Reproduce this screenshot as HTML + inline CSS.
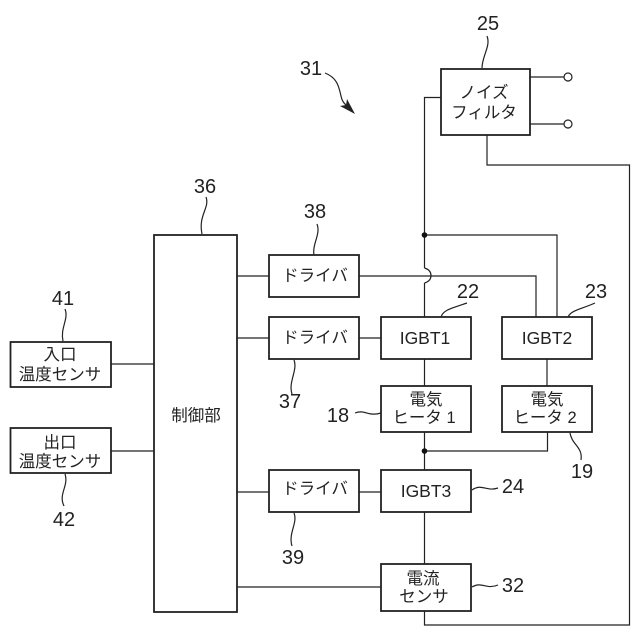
<!DOCTYPE html>
<html><head><meta charset="utf-8"><style>
html,body{margin:0;padding:0;background:#fff}
svg{display:block}
.n{font-family:"Liberation Sans",sans-serif;font-size:20px;fill:#222;text-anchor:middle}
.j{font-family:"Liberation Sans","Noto Sans CJK JP",sans-serif;font-size:16.500px;fill:#222;text-anchor:middle}
.l{fill:none;stroke:#222;stroke-width:1.2}
.b{fill:#fff;stroke:#222;stroke-width:1.8}
</style></head><body>
<svg width="640" height="640" viewBox="0 0 640 640" xmlns="http://www.w3.org/2000/svg">
<!-- connectors -->
<path class="l" d="M441 97.5H424.5V268M424.5 283V317M424.5 235H557V317"/>
<path class="l" d="M424.5 268Q431 270 431 275.5Q431 281 424.5 283"/>
<path class="l" d="M359 276H536V317"/>
<path class="l" d="M530 77H564M530 124H564"/>
<circle class="l" cx="568" cy="77" r="4"/><circle class="l" cx="568" cy="124" r="4"/>
<path class="l" d="M487 135V165H629.5V625H424.5V611"/>
<path class="l" d="M237 276H269M237 338H269M359 338H381M237 492H269M359 492H381M237 587H381M111 364H154M111 451H154"/>
<path class="l" d="M424.5 359V386M547 359V386M424.5 432V470M424.5 451H547.5V432M424.5 512V564"/>
<circle cx="424.5" cy="235" r="2.8" fill="#111"/><circle cx="424.5" cy="451" r="2.8" fill="#111"/>
<!-- boxes -->
<rect class="b" x="441" y="69" width="89" height="66"/>
<rect class="b" x="154" y="235" width="83" height="377"/>
<rect class="b" x="269" y="255" width="90" height="42"/>
<rect class="b" x="269" y="317" width="90" height="42"/>
<rect class="b" x="269" y="470" width="90" height="42"/>
<rect class="b" x="381" y="317" width="90" height="42"/>
<rect class="b" x="502" y="317" width="90" height="42"/>
<rect class="b" x="381" y="386" width="90" height="46"/>
<rect class="b" x="502" y="386" width="90" height="46"/>
<rect class="b" x="381" y="470" width="90" height="42"/>
<rect class="b" x="381" y="564" width="90" height="47"/>
<rect class="b" x="10.500" y="342" width="100.500" height="45"/>
<rect class="b" x="10.500" y="428" width="100.500" height="45"/>
<!-- leader lines -->
<path class="l" d="M487 36C491 46 482 56 482 68"/>
<path class="l" d="M325 73C338 78 339 88 341 96C342 102 345 104 348 107"/>
<path d="M355 114L340 106L346 105L347 99Z" fill="#222"/>
<path class="l" d="M317 224C321 234 312 244 314 255"/>
<path class="l" d="M441 317C443 310 452 308 467 303"/>
<path class="l" d="M568 317C571 310 582 309 595 303"/>
<path class="l" d="M206 197C210 208 198 215 202 234"/>
<path class="l" d="M65 309C69 319 60 328 63 341"/>
<path class="l" d="M65 474C69 486 58 494 64 506"/>
<path class="l" d="M294 360C298 370 288 382 292 394"/>
<path class="l" d="M294 513C298 523 288 533 292 546"/>
<path class="l" d="M355 413C365 409 368 417 381 413"/>
<path class="l" d="M570 433C572 445 583 447 581 460"/>
<path class="l" d="M472 490C482 483 486 492 498 488"/>
<path class="l" d="M472 587C482 581 486 590 498 585"/>
<!-- numbers -->
<text class="n" x="488" y="30">25</text>
<text class="n" x="311" y="75">31</text>
<text class="n" x="315" y="218">38</text>
<text class="n" x="468" y="298">22</text>
<text class="n" x="596" y="298">23</text>
<text class="n" x="205" y="193">36</text>
<text class="n" x="63" y="305">41</text>
<text class="n" x="64" y="526">42</text>
<text class="n" x="290" y="408">37</text>
<text class="n" x="338" y="422">18</text>
<text class="n" x="582" y="478">19</text>
<text class="n" x="513" y="493">24</text>
<text class="n" x="293" y="564">39</text>
<text class="n" x="513" y="592">32</text>
<!-- labels -->
<text class="j" x="484" y="98">ノイズ</text>
<text class="j" x="484" y="118">フィルタ</text>
<text class="j" x="196" y="421">制御部</text>
<text class="j" x="315" y="281">ドライバ</text>
<text class="j" x="315" y="343">ドライバ</text>
<text class="j" x="315" y="494">ドライバ</text>
<text class="j" x="425" y="344" style="font-size:17.500px">IGBT1</text>
<text class="j" x="547" y="344" style="font-size:17.500px">IGBT2</text>
<text class="j" x="426" y="497" style="font-size:17.500px">IGBT3</text>
<text class="j" x="426" y="405">電気</text>
<text class="j" x="424" y="423">ヒータ 1</text>
<text class="j" x="547" y="405">電気</text>
<text class="j" x="545" y="423">ヒータ 2</text>
<text class="j" x="423" y="584">電流</text>
<text class="j" x="424" y="602">センサ</text>
<text class="j" x="60" y="360">入口</text>
<text class="j" x="60" y="380">温度センサ</text>
<text class="j" x="60" y="448">出口</text>
<text class="j" x="60" y="467">温度センサ</text>
</svg>
</body></html>
